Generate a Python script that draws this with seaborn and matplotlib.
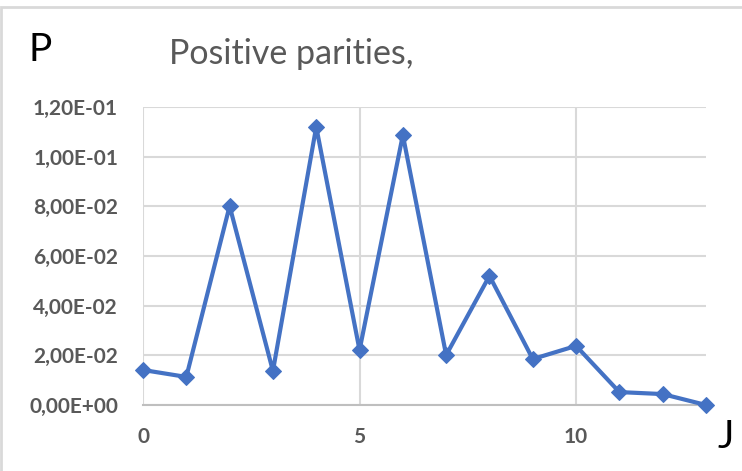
import matplotlib
matplotlib.use("Agg")
import matplotlib.pyplot as plt
import matplotlib.ticker as mticker
from matplotlib.patches import Rectangle
import seaborn as sns
import pandas as pd

J = [0, 1, 2, 3, 4, 5, 6, 7, 8, 9, 10, 11, 12, 13]
P = [0.0141, 0.0113, 0.0801, 0.0137, 0.1120, 0.0221, 0.1087, 0.0201,
     0.0520, 0.0185, 0.0238, 0.0052, 0.0044, 0.0000]
y_ticks = [0.0, 0.02, 0.04, 0.06, 0.08, 0.10, 0.12]
x_ticks = [0, 5, 10]

df = pd.DataFrame({"J": J, "P": P})

sns.set_theme(style="white")
plt.rcParams["font.family"] = ["Lato", "DejaVu Sans"]

fig = plt.figure(figsize=(7.42, 4.71), dpi=100)
ax = fig.add_axes([143/742, 1-405/471, (706-143)/742, (405-107)/471])

# chart frame
fig.patches.append(Rectangle((1/742, -0.02), 1.1, 1-7/471+0.02, transform=fig.transFigure,
                             fill=False, edgecolor="#d9d9d9", linewidth=2))

blue = "#4472C4"
sns.lineplot(data=df, x="J", y="P", ax=ax, color=blue, linewidth=3,
             marker="D", markersize=8, markeredgecolor=blue, markerfacecolor=blue,
             zorder=5, clip_on=False)

ax.set_xlim(0, 13)
ax.set_ylim(0, 0.12)
ax.set_xticks(x_ticks)
ax.set_yticks(y_ticks)
ax.yaxis.set_major_formatter(mticker.FuncFormatter(lambda v, p: f"{v:.2E}".replace(".", ",")))
ax.grid(True, color="#d9d9d9", linewidth=1.5)
ax.set_axisbelow(True)
for s in ["top", "right"]:
    ax.spines[s].set_visible(False)
ax.spines["left"].set_visible(False)
ax.spines["bottom"].set_color("#bfbfbf")
ax.spines["bottom"].set_linewidth(1.5)
ax.tick_params(axis="both", length=0, labelsize=15, labelcolor="#595959")
ax.tick_params(axis="y", pad=18)
ax.tick_params(axis="x", pad=16)
for lbl in ax.get_xticklabels() + ax.get_yticklabels():
    lbl.set_fontweight("bold")
ax.set_xlabel("")
ax.set_ylabel("")

fig.text(28/742, 1-50/471, "P", fontsize=28, color="black", va="center", ha="left")
fig.text(169/742, 1-54/471, "Positive parities,", fontsize=24.5, color="#595959", va="center", ha="left")
fig.text(718/742, 1-437/471, "J", fontsize=28, color="black", va="center", ha="left")

fig.savefig("out.png", dpi=100)
